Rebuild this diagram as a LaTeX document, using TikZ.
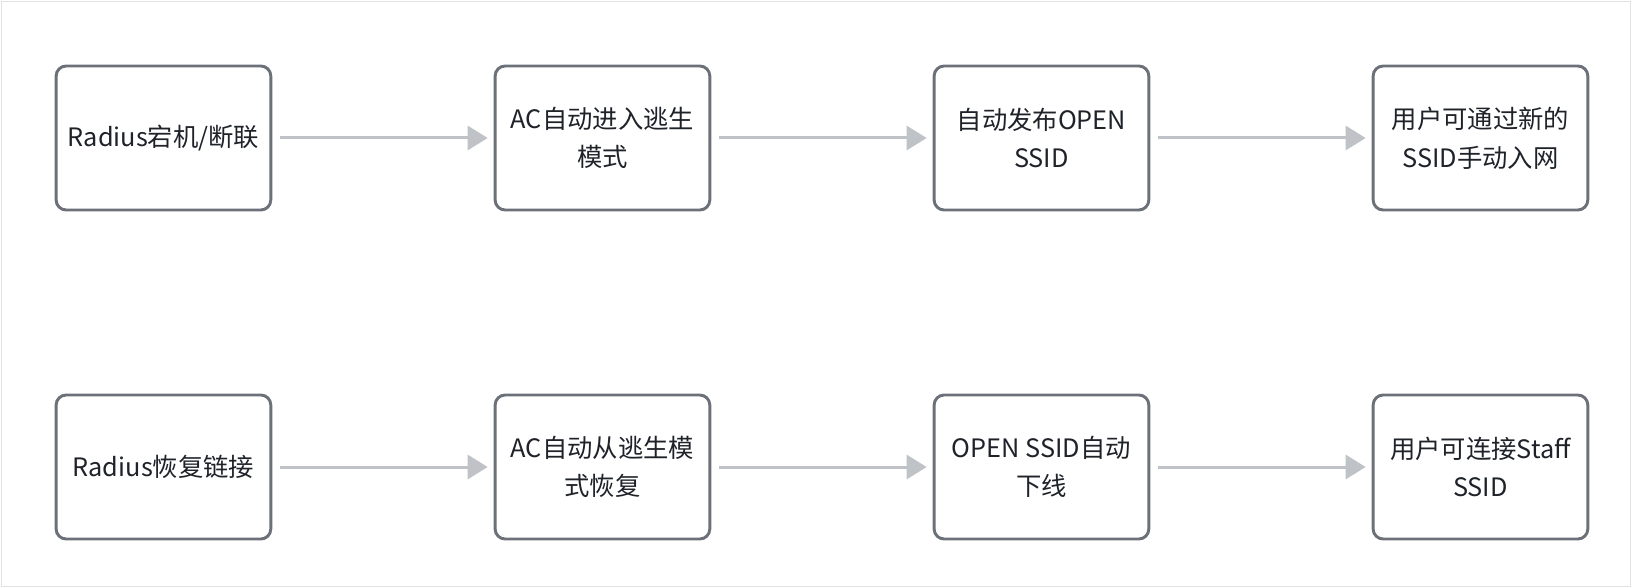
\documentclass[tikz,border=0pt]{standalone}
\usepackage{fontspec}
\setmainfont{Noto Sans CJK SC}
\usetikzlibrary{arrows.meta,positioning}
\definecolor{boxborder}{HTML}{6B7079}
\definecolor{arrowgray}{HTML}{BFC2C7}
\definecolor{textdark}{HTML}{1F2329}
\definecolor{framegray}{HTML}{E2E2E2}

\begin{document}
\begin{tikzpicture}[
    >=Triangle,
    stepbox/.style={
        rectangle, rounded corners=7.5pt, line width=2.2pt,
        draw=boxborder, fill=white,
        minimum width=161pt, minimum height=108pt,
        inner sep=0pt, outer sep=0pt, align=center,
        font=\fontsize{19pt}{29pt}\selectfont, text=textdark
    },
    flow/.style={
        -{Triangle[length=15pt, width=18pt]}, line width=2.25pt, draw=arrowgray,
        shorten <=7.1pt, shorten >=5.6pt
    },
    node distance=168.25pt
]

\useasboundingbox (0,0) rectangle (1224pt,-441pt);
\draw[framegray, line width=1.2pt] (1.1pt,-1.1pt) rectangle (1222.9pt,-439.9pt);

% ==================== ROW 1: FAILURE ====================
\node[stepbox] (a1) at (122.6pt,-103.5pt) {Radius宕机/断联};
\node[stepbox, right=of a1] (a2) {AC自动进入逃生\\模式};
\node[stepbox, right=of a2] (a3) {自动发布OPEN\\SSID};
\node[stepbox, right=of a3] (a4) {用户可通过新的\\SSID手动入网};

% ==================== ROW 2: RECOVERY ====================
\node[stepbox, below=138.75pt of a1] (b1) {Radius恢复链接};
\node[stepbox, right=of b1] (b2) {AC自动从逃生模\\式恢复};
\node[stepbox, right=of b2] (b3) {OPEN SSID自动\\下线};
\node[stepbox, right=of b3] (b4) {用户可连接Staff\\SSID};

% ==================== ARROWS ====================
\draw[flow] (a1.east) -- (a2.west);
\draw[flow] (a2.east) -- (a3.west);
\draw[flow] (a3.east) -- (a4.west);
\draw[flow] (b1.east) -- (b2.west);
\draw[flow] (b2.east) -- (b3.west);
\draw[flow] (b3.east) -- (b4.west);

\end{tikzpicture}
\end{document}
